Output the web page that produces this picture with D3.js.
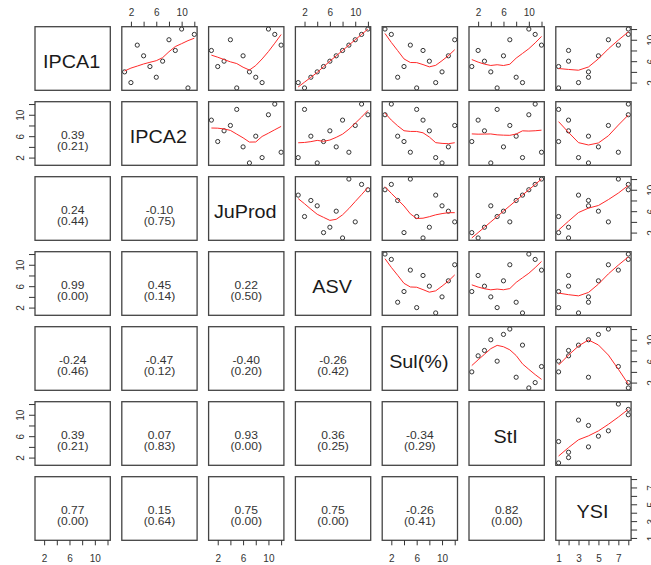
<!DOCTYPE html>
<html>
<head>
<meta charset="utf-8">
<script src="https://cdn.jsdelivr.net/npm/d3@7"></script>
<style>
  body { margin: 0; background: #fff; }
  svg { display: block; }
  text { font-family: "Liberation Sans", Arial, Helvetica, sans-serif; }
</style>
</head>
<body>
<svg id="chart" width="651" height="565"></svg>
<script>
// variables, in panel order
const varNames = ["IPCA1", "IPCA2", "JuProd", "ASV", "Sul(%)", "StI", "YSI"];

// 12 observations (ranks)
const IPCA1  = [1, 2, 3, 4, 5, 6, 7, 8, 9, 10, 11, 12];
const IPCA2  = [11, 2, 6, 1, 5, 7, 4, 9, 3, 8, 12, 10];
const JuProd = [5, 9, 8, 7, 2, 3, 6, 1, 12, 4, 11, 10];
const ASV    = [2, 1, 3, 4, 5, 6, 7, 8, 9, 10, 11, 12];
const Sul    = [6, 9, 3, 10, 4, 8, 11, 7, 5, 12, 2, 1];
const StI    = [5, 9, 8, 4, 1, 3, 6, 2, 12, 7, 11, 10];
const YSI    = [1, 3, 4, 4, 1, 2, 5, 2, 7, 6, 8, 8];

// p-values printed in the lower panels (row by row)
const pValues = [
  [],
  ["0.21"],
  ["0.44", "0.75"],
  ["0.00", "0.14", "0.50"],
  ["0.46", "0.12", "0.20", "0.42"],
  ["0.21", "0.83", "0.00", "0.25", "0.29"],
  ["0.00", "0.64", "0.00", "0.00", "0.41", "0.00"]
];

// axis ticks
const rankTicks = [2, 4, 6, 8, 10, 12];
const rankLabels = [2, 6, 10];
const ysiTicks = [1, 2, 3, 4, 5, 6, 7, 8];
const ysiLabels = [1, 3, 5, 7];

const series = [IPCA1, IPCA2, JuProd, ASV, Sul, StI, YSI];
const nv = series.length;

const svg = d3.select("#chart");

const left0 = 35, top0 = 26.7, pitchX = 86.8, pitchY = 75, pw = 75.3, ph = 63.6;
const colLeft = j => left0 + j * pitchX;
const rowTop = i => top0 + i * pitchY;

function padded(v) {
  const [a, b] = d3.extent(v);
  const p = (b - a) * 0.04;
  return [a - p, b + p];
}
const xScale = j => d3.scaleLinear().domain(padded(series[j])).range([colLeft(j), colLeft(j) + pw]);
const yScale = i => d3.scaleLinear().domain(padded(series[i])).range([rowTop(i) + ph, rowTop(i)]);

function pearson(a, b) {
  const ma = d3.mean(a), mb = d3.mean(b);
  let sab = 0, saa = 0, sbb = 0;
  a.forEach((v, k) => {
    sab += (v - ma) * (b[k] - mb);
    saa += (v - ma) ** 2;
    sbb += (b[k] - mb) ** 2;
  });
  return sab / Math.sqrt(saa * sbb);
}

// R's lowess (f = 2/3, iter = 3)
function lowess(xIn, yIn, f = 2 / 3, nsteps = 3) {
  const idx = d3.range(xIn.length).sort((a, b) => (xIn[a] - xIn[b]) || (a - b));
  const x = idx.map(i => xIn[i]), y = idx.map(i => yIn[i]);
  const n = x.length;
  const ns = Math.max(2, Math.min(n, Math.floor(f * n + 1e-7)));
  const ys = new Array(n).fill(0), res = new Array(n).fill(0);
  let rw = new Array(n).fill(1);
  const range = x[n - 1] - x[0];

  function lowest(xs, nleft, nright, userw) {
    const w = new Array(n).fill(0);
    const h = Math.max(xs - x[nleft], x[nright] - xs);
    const h9 = 0.999 * h, h1 = 0.001 * h;
    let a = 0, j = nleft;
    while (j < n) {
      const r = Math.abs(x[j] - xs);
      if (r <= h9) {
        w[j] = r <= h1 ? 1 : Math.pow(1 - Math.pow(r / h, 3), 3);
        if (userw) w[j] *= rw[j];
        a += w[j];
      } else if (x[j] > xs) break;
      j++;
    }
    const nrt = j - 1;
    if (a <= 0) return null;
    for (j = nleft; j <= nrt; j++) w[j] /= a;
    if (h > 0) {
      a = 0;
      for (j = nleft; j <= nrt; j++) a += w[j] * x[j];
      let b = xs - a, c = 0;
      for (j = nleft; j <= nrt; j++) c += w[j] * (x[j] - a) * (x[j] - a);
      if (Math.sqrt(c) > 0.001 * range) {
        b /= c;
        for (j = nleft; j <= nrt; j++) w[j] *= (b * (x[j] - a) + 1);
      }
    }
    let s = 0;
    for (j = nleft; j <= nrt; j++) s += w[j] * y[j];
    return s;
  }

  for (let iter = 1; iter <= nsteps + 1; iter++) {
    let nleft = 0, nright = ns - 1;
    for (let i = 0; i < n; i++) {
      if (i > 0 && x[i] === x[i - 1]) { ys[i] = ys[i - 1]; continue; }
      while (nright < n - 1 && x[i] - x[nleft] > x[nright + 1] - x[i]) { nleft++; nright++; }
      const v = lowest(x[i], nleft, nright, iter > 1);
      ys[i] = v === null ? y[i] : v;
    }
    for (let i = 0; i < n; i++) res[i] = y[i] - ys[i];
    if (iter > nsteps) break;
    const ar = res.map(Math.abs).sort((a, b) => a - b);
    const m1 = Math.floor(n / 2);
    const cmad = n % 2 === 0 ? 3 * (ar[m1] + ar[n - m1 - 1]) : 6 * ar[m1];
    const sc = d3.sum(ar) / n;
    if (cmad < 1e-7 * sc) break;
    const c9 = 0.999 * cmad, c1 = 0.001 * cmad;
    rw = res.map(r => {
      r = Math.abs(r);
      return r <= c1 ? 1 : r <= c9 ? Math.pow(1 - Math.pow(r / cmad, 2), 2) : 0;
    });
  }
  return x.map((v, i) => [v, ys[i]]);
}

// R prints a plain hyphen for negatives
const fmt = d3.formatLocale({ decimal: ".", thousands: ",", grouping: [3], currency: ["", ""], minus: "-" }).format(".2f");

for (let i = 0; i < nv; i++) {
  for (let j = 0; j < nv; j++) {
    const g = svg.append("g");
    const x0 = colLeft(j), y0 = rowTop(i);
    const cx = x0 + pw / 2, cy = y0 + ph / 2;
    if (i === j) {
      g.append("text")
        .attr("transform", `translate(${cx - 1},${cy + 9}) scale(1.07,1)`)
        .attr("text-anchor", "middle")
        .style("font-size", "18.5px")
        .attr("fill", "#1a1a1a")
        .text(varNames[i]);
    } else if (i < j) {
      const xs = xScale(j), ys = yScale(i);
      const pts = series[j].map((v, k) => [v, series[i][k]]);
      g.selectAll("circle")
        .data(pts)
        .enter()
        .append("circle")
        .attr("cx", d => xs(d[0]))
        .attr("cy", d => ys(d[1]))
        .attr("r", 2.1)
        .attr("fill", "none")
        .attr("stroke", "#333")
        .attr("stroke-width", 1);
      const line = d3.line().x(d => xs(d[0])).y(d => ys(d[1]));
      g.append("path")
        .datum(lowess(series[j], series[i]))
        .attr("fill", "none")
        .attr("stroke", "#ff2a2a")
        .attr("stroke-width", 1)
        .attr("d", line);
    } else {
      const r = pearson(series[i], series[j]);
      g.append("text")
        .attr("transform", `translate(${cx},${cy + 5}) scale(1.15,1)`)
        .attr("text-anchor", "middle")
        .style("font-size", "10.5px")
        .attr("fill", "#333")
        .text(fmt(r));
      g.append("text")
        .attr("transform", `translate(${cx},${cy + 16.5}) scale(1.15,1)`)
        .attr("text-anchor", "middle")
        .style("font-size", "10.5px")
        .attr("fill", "#333")
        .text("(" + pValues[i][j] + ")");
    }
    g.append("rect")
      .attr("x", x0).attr("y", y0)
      .attr("width", pw).attr("height", ph)
      .attr("fill", "none")
      .attr("stroke", "#444")
      .attr("stroke-width", 1.3);
  }
}

// axes, alternating sides like R pairs()
function tickFormatFor(k) {
  const labels = k === 6 ? ysiLabels : rankLabels;
  return d => labels.includes(d) ? d : "";
}
const ticksFor = k => (k === 6 ? ysiTicks : rankTicks);

function styleAxis(sel) {
  sel.select(".domain").remove();
  sel.selectAll("line").attr("stroke", "#333");
  sel.selectAll("text")
    .attr("fill", "#333")
    .style("font-size", "10px");
}

for (let k = 0; k < nv; k++) {
  if (k % 2 === 1) {
    // top axis on column k, left axis on row k
    svg.append("g")
      .attr("transform", `translate(0,${rowTop(0)})`)
      .call(d3.axisTop(xScale(k)).tickValues(ticksFor(k)).tickFormat(tickFormatFor(k)).tickSize(5).tickPadding(6))
      .call(styleAxis);
    svg.append("g")
      .attr("transform", `translate(${colLeft(0)},0)`)
      .call(d3.axisLeft(yScale(k)).tickValues(ticksFor(k)).tickFormat(tickFormatFor(k)).tickSize(6))
      .call(styleAxis)
      .call(a => a.selectAll("text")
        .attr("x", null).attr("dy", null)
        .attr("text-anchor", "middle")
        .attr("transform", "translate(-11,0) rotate(-90)"));
  } else {
    // bottom axis on column k, right axis on row k
    svg.append("g")
      .attr("transform", `translate(0,${rowTop(nv - 1) + ph})`)
      .call(d3.axisBottom(xScale(k)).tickValues(ticksFor(k)).tickFormat(tickFormatFor(k)).tickSize(5).tickPadding(10))
      .call(styleAxis);
    svg.append("g")
      .attr("transform", `translate(${colLeft(nv - 1) + pw},0)`)
      .call(d3.axisRight(yScale(k)).tickValues(ticksFor(k)).tickFormat(tickFormatFor(k)).tickSize(6))
      .call(styleAxis)
      .call(a => a.selectAll("text")
        .attr("x", null).attr("dy", null)
        .attr("text-anchor", "middle")
        .attr("transform", "translate(24,0) rotate(-90)"));
  }
}
</script>
</body>
</html>
